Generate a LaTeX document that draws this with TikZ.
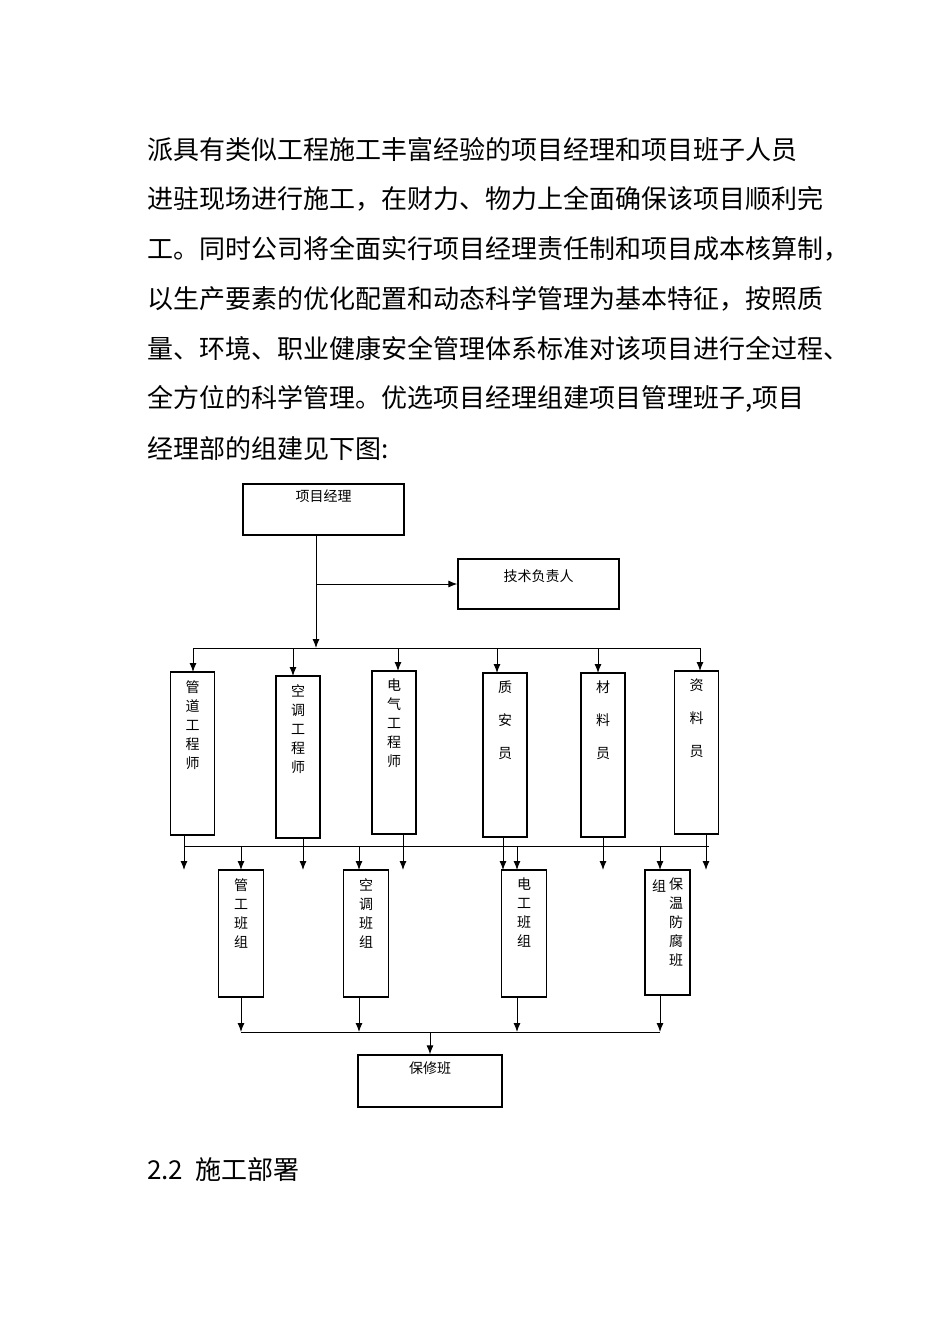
\documentclass[tikz,border=0pt]{standalone}
\usepackage{fontspec}
\setmainfont{Liberation Serif}
\newfontfamily\cjk{Noto Sans CJK SC}
\usetikzlibrary{arrows.meta}
\tikzset{
  box/.style={draw, line width=1.3pt, inner sep=0pt},
  vlabel/.style={font=\cjk\fontsize{14}{19}\selectfont, align=center, anchor=north, inner sep=0pt},
  para/.style={anchor=west, font=\cjk\fontsize{26}{26}\selectfont, inner sep=0pt},
  link/.style={line width=1pt},
  arr/.style={line width=1pt, -{Latex[length=9pt,width=7pt]}}
}
\begin{document}
\begin{tikzpicture}[x=1pt,y=-1pt]
\useasboundingbox (0,0) rectangle (950,1344);

% text above the chart
\node[para] (l1) at (147,150) {派具有类似工程施工丰富经验的项目经理和项目班子人员};
\node[para] (l2) at (147,199) {进驻现场进行施工，在财力、物力上全面确保该项目顺利完};
\node[para] (l3) at (147,249) {工。同时公司将全面实行项目经理责任制和项目成本核算制，};
\node[para] (l4) at (147,299) {以生产要素的优化配置和动态科学管理为基本特征，按照质};
\node[para] (l5) at (147,349) {量、环境、职业健康安全管理体系标准对该项目进行全过程、};
\node[para] (l6) at (147,399) {全方位的科学管理。优选项目经理组建项目管理班子,项目};
\node[para] (l7) at (147,449) {经理部的组建见下图:};

% top boxes
\node[box, minimum width=161pt, minimum height=51pt] (pm) at (323.5,509.5) {};
\node[vlabel] at (323.5,490) {项目经理};
\node[box, minimum width=161pt, minimum height=50pt] (tech) at (538.5,584) {};
\node[vlabel, anchor=center] at (538.5,576) {技术负责人};

\coordinate (bus1) at (316,648);
\draw[arr] (pm.south -| bus1) -- (bus1);
\draw[arr] (316,584) -- (tech.west);
\draw[link] (193,648) -- (700,648);

% engineers
\foreach \name/\cx/\top/\bot/\txt/\ax in {
  pipe/192.5/672/835/{管\\道\\工\\程\\师}/193,
  air/298/676/838/{空\\调\\工\\程\\师}/293,
  elec/394/671/834/{电\\气\\工\\程\\师}/398,
  qs/505/673/837/{质\\[14pt]安\\[14pt]员}/497,
  mat/603/673/837/{材\\[14pt]料\\[14pt]员}/598,
  doc/696.5/671/834/{资\\[14pt]料\\[14pt]员}/700}{
  \node[box, minimum width=44pt, minimum height={\bot-\top}] (\name) at (\cx,{(\top+\bot)/2}) {};
  \node[vlabel] at (\cx,\top+8) {\txt};
  \draw[arr] (\ax,648) -- (\ax,\top);
}

% second bus
\draw[link] (184,846) -- (709,846);
\foreach \name/\x in {pipe/184,air/303,elec/403,qs/503,mat/603,doc/706}
  \draw[arr] (\name.south -| \x,0) -- (\x,870);

% crews
\foreach \name/\cx/\bot in {gong/241/997, kong/366/997, dian/524/997, bao/667.5/995}
  \node[box, minimum width=45pt, minimum height={\bot-870}] (\name) at (\cx,{(870+\bot)/2}) {};
\node[vlabel] at (241,878) {管\\工\\班\\组};
\node[vlabel] at (366,878) {空\\调\\班\\组};
\node[vlabel] at (524,878) {电\\工\\班\\组};
\node[vlabel] at (676,878) {保\\温\\防\\腐\\班};
\node[vlabel] at (659,880) {组};
\foreach \x in {241,359,517,660}
  \draw[arr] (\x,846) -- (\x,870);

% repair crew
\node[box, minimum width=144pt, minimum height=52pt] (rep) at (430,1081) {};
\node[vlabel] at (430,1062) {保修班};
\foreach \name/\x in {gong/241,kong/359,dian/517,bao/660}
  \draw[arr] (\name.south -| \x,0) -- (\x,1032);
\draw[link] (241,1032) -- (660,1032);
\draw[arr] (430,1032) -- (rep.north);

\node[para] (sec) at (147,1170) {2.2\hspace{12pt}施工部署};
\end{tikzpicture}
\end{document}
